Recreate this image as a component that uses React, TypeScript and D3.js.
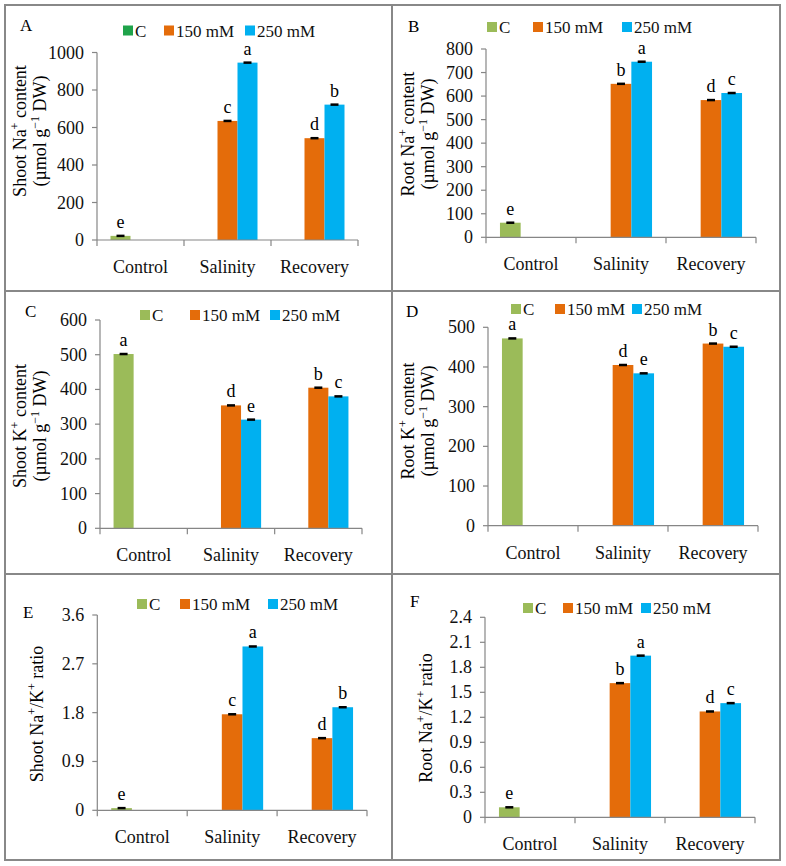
import React from "react";
import * as d3 from "d3";

const categories = ["Control", "Salinity", "Recovery"];
const seriesNames = ["C", "150 mM", "250 mM"];

// Panel A – Shoot Na+
const shootNaC = [22, null, null];
const shootNa150 = [null, 635, 543];
const shootNa250 = [null, 946, 722];
const shootNaLetC = ["e", "", ""];
const shootNaLet150 = ["", "c", "d"];
const shootNaLet250 = ["", "a", "b"];

// Panel B – Root Na+
const rootNaC = [62, null, null];
const rootNa150 = [null, 652, 583];
const rootNa250 = [null, 746, 613];
const rootNaLetC = ["e", "", ""];
const rootNaLet150 = ["", "b", "d"];
const rootNaLet250 = ["", "a", "c"];

// Panel C – Shoot K+
const shootKC = [502, null, null];
const shootK150 = [null, 354, 405];
const shootK250 = [null, 313, 380];
const shootKLetC = ["a", "", ""];
const shootKLet150 = ["", "d", "b"];
const shootKLet250 = ["", "e", "c"];

// Panel D – Root K+
const rootKC = [472, null, null];
const rootK150 = [null, 405, 459];
const rootK250 = [null, 384, 451];
const rootKLetC = ["a", "", ""];
const rootKLet150 = ["", "d", "b"];
const rootKLet250 = ["", "e", "c"];

// Panel E – Shoot Na+/K+
const shootRatioC = [0.04, null, null];
const shootRatio150 = [null, 1.77, 1.33];
const shootRatio250 = [null, 3.02, 1.9];
const shootRatioLetC = ["e", "", ""];
const shootRatioLet150 = ["", "c", "d"];
const shootRatioLet250 = ["", "a", "b"];

// Panel F – Root Na+/K+
const rootRatioC = [0.12, null, null];
const rootRatio150 = [null, 1.61, 1.27];
const rootRatio250 = [null, 1.94, 1.37];
const rootRatioLetC = ["e", "", ""];
const rootRatioLet150 = ["", "b", "d"];
const rootRatioLet250 = ["", "a", "c"];

const yMax = [1000, 800, 600, 500, 3.6, 2.4];
const yStep = [200, 100, 100, 100, 0.9, 0.3];

const COLORS = ["#9BBB59", "#E46C0A", "#00B0F0"];
const AXIS = "#868686";
const FONT = "'Liberation Serif', 'Times New Roman', serif";
const FS = 18;

type Part = { t: string; sup?: boolean };

const panels = [
  {
    id: "A", vals: [shootNaC, shootNa150, shootNa250], lets: [shootNaLetC, shootNaLet150, shootNaLet250],
    max: yMax[0], step: yStep[0],
    axisX: 97, endX: 358, y0: 240, yTop: 52.5,
    legX: [123, 164, 245], legY: 30.5, legGreen: "#1FA34A",
    letter: [20, 31],
    titleY: 131,
    titles: [
      { x: 20, parts: [{ t: "Shoot Na" }, { t: "+", sup: true }, { t: " content" }] as Part[] },
      { x: 40, parts: [{ t: "(µmol g" }, { t: "−1", sup: true }, { t: " DW)" }] as Part[] },
    ],
  },
  {
    id: "B", vals: [rootNaC, rootNa150, rootNa250], lets: [rootNaLetC, rootNaLet150, rootNaLet250],
    max: yMax[1], step: yStep[1],
    axisX: 486, endX: 756, y0: 237.3, yTop: 49,
    legX: [487, 533, 622], legY: 27, legGreen: COLORS[0],
    letter: [408, 32],
    titleY: 134,
    titles: [
      { x: 408, parts: [{ t: "Root Na" }, { t: "+", sup: true }, { t: " content" }] as Part[] },
      { x: 428, parts: [{ t: "(µmol g" }, { t: "−1", sup: true }, { t: " DW)" }] as Part[] },
    ],
  },
  {
    id: "C", vals: [shootKC, shootK150, shootK250], lets: [shootKLetC, shootKLet150, shootKLet250],
    max: yMax[2], step: yStep[2],
    axisX: 100, endX: 362, y0: 528.3, yTop: 320,
    legX: [140, 190, 270], legY: 315, legGreen: COLORS[0],
    letter: [25, 317],
    titleY: 426,
    titles: [
      { x: 20, parts: [{ t: "Shoot K" }, { t: "+", sup: true }, { t: " content" }] as Part[] },
      { x: 40, parts: [{ t: "(µmol g" }, { t: "−1", sup: true }, { t: " DW)" }] as Part[] },
    ],
  },
  {
    id: "D", vals: [rootKC, rootK150, rootK250], lets: [rootKLetC, rootKLet150, rootKLet250],
    max: yMax[3], step: yStep[3],
    axisX: 488, endX: 758, y0: 525.7, yTop: 327.3,
    legX: [511, 555, 632], legY: 309, legGreen: COLORS[0],
    letter: [406, 317],
    titleY: 421,
    titles: [
      { x: 408, parts: [{ t: "Root K" }, { t: "+", sup: true }, { t: " content" }] as Part[] },
      { x: 428, parts: [{ t: "(µmol g" }, { t: "−1", sup: true }, { t: " DW)" }] as Part[] },
    ],
  },
  {
    id: "E", vals: [shootRatioC, shootRatio150, shootRatio250], lets: [shootRatioLetC, shootRatioLet150, shootRatioLet250],
    max: yMax[4], step: yStep[4],
    axisX: 97.3, endX: 367, y0: 810.3, yTop: 615,
    legX: [137, 180, 268], legY: 604, legGreen: COLORS[0],
    letter: [23, 618],
    titleY: 714,
    titles: [
      { x: 37, parts: [{ t: "Shoot Na" }, { t: "+", sup: true }, { t: "/K" }, { t: "+", sup: true }, { t: " ratio" }] as Part[] },
    ],
  },
  {
    id: "F", vals: [rootRatioC, rootRatio150, rootRatio250], lets: [rootRatioLetC, rootRatioLet150, rootRatioLet250],
    max: yMax[5], step: yStep[5],
    axisX: 485, endX: 755, y0: 817.3, yTop: 617.3,
    legX: [523, 563, 641], legY: 608, legGreen: COLORS[0],
    letter: [410, 607],
    titleY: 718,
    titles: [
      { x: 426, parts: [{ t: "Root Na" }, { t: "+", sup: true }, { t: "/K" }, { t: "+", sup: true }, { t: " ratio" }] as Part[] },
    ],
  },
];

function Title({ x, y, parts }: { x: number; y: number; parts: Part[] }) {
  const nodes: React.ReactNode[] = [];
  let raised = false;
  parts.forEach((p, i) => {
    if (p.sup) {
      nodes.push(
        <tspan key={i} dy={raised ? 0 : -7} fontSize={12}>{p.t}</tspan>
      );
      raised = true;
    } else {
      nodes.push(
        <tspan key={i} dy={raised ? 7 : 0}>{p.t}</tspan>
      );
      raised = false;
    }
  });
  return (
    <text
      transform={`translate(${x + 6},${y}) rotate(-90)`}
      textAnchor="middle"
      fontSize={FS}
      fontFamily={FONT}
      fill="#000"
    >
      {nodes}
    </text>
  );
}

function Panel({ p }: { p: (typeof panels)[number] }) {
  const y = d3.scaleLinear().domain([0, p.max]).range([p.y0, p.yTop]);
  const x = d3.scaleBand().domain(categories).range([p.axisX, p.endX]).paddingInner(0).paddingOuter(0);
  const xs = d3.scaleBand().domain(seriesNames).range([0, x.bandwidth()]).paddingInner(0).paddingOuter(0.675);
  const ticks = d3.range(0, p.max + p.step / 2, p.step);
  const fmt = (v: number) => (p.step < 1 ? (v === 0 ? "0" : v.toFixed(1)) : d3.format("d")(v));
  const bounds = [p.axisX, ...categories.map((c) => (x(c) as number) + x.bandwidth())];

  return (
    <g>
      {p.vals.map((arr, si) =>
        arr.map((v, ci) => {
          if (v == null) return null;
          const bx = (x(categories[ci]) as number) + (xs(seriesNames[si]) as number);
          const bw = xs.bandwidth();
          const top = y(v);
          const letter = p.lets[si][ci];
          return (
            <g key={`${si}-${ci}`}>
              <rect x={bx} y={top} width={bw} height={p.y0 - top} fill={COLORS[si]} />
              <line x1={bx + bw / 2 - 4} x2={bx + bw / 2 + 4} y1={top} y2={top} stroke="#000" strokeWidth={2.5} />
              {letter && (
                <text x={bx + bw / 2} y={top - 8} textAnchor="middle" fontSize={FS} fontFamily={FONT} fill="#000">
                  {letter}
                </text>
              )}
            </g>
          );
        })
      )}
      <line x1={p.axisX} x2={p.axisX} y1={p.yTop} y2={p.y0} stroke={AXIS} strokeWidth={1.2} />
      {ticks.map((t) => (
        <g key={t}>
          <line x1={p.axisX - 5} x2={p.axisX} y1={y(t)} y2={y(t)} stroke={AXIS} strokeWidth={1.2} />
          <text x={p.axisX - 13} y={y(t) + 6} textAnchor="end" fontSize={FS} fontFamily={FONT} fill="#111">
            {fmt(t)}
          </text>
        </g>
      ))}
      <line x1={p.axisX} x2={p.endX} y1={p.y0} y2={p.y0} stroke={AXIS} strokeWidth={1.2} />
      {bounds.map((b, i) => (
        <line key={i} x1={b} x2={b} y1={p.y0} y2={p.y0 + 6} stroke={AXIS} strokeWidth={1.2} />
      ))}
      {categories.map((c) => (
        <text
          key={c}
          x={(x(c) as number) + x.bandwidth() / 2}
          y={p.y0 + 33}
          textAnchor="middle"
          fontSize={FS}
          fontFamily={FONT}
          fill="#111"
        >
          {c}
        </text>
      ))}
      {seriesNames.map((s, i) => (
        <g key={s}>
          <rect
            x={p.legX[i]}
            y={p.legY - 5}
            width={10}
            height={10}
            fill={i === 0 ? p.legGreen : COLORS[i]}
          />
          <text x={p.legX[i] + 12} y={p.legY + 6} fontSize={17} fontFamily={FONT} fill="#111">
            {s}
          </text>
        </g>
      ))}
      <text x={p.letter[0]} y={p.letter[1]} fontSize={17} fontFamily={FONT} fill="#000">
        {p.id}
      </text>
      {p.titles.map((t, i) => (
        <Title key={i} x={t.x} y={p.titleY} parts={t.parts} />
      ))}
    </g>
  );
}

export default function App() {
  return (
    <svg
      width={786}
      height={866}
      style={{ position: "absolute", left: 0, top: 0, background: "#fff" }}
    >
      <rect x={0} y={0} width={786} height={866} fill="#fff" />
      {panels.map((p) => (
        <Panel key={p.id} p={p} />
      ))}
      <rect x={5} y={5} width={775} height={855} fill="none" stroke="#888" strokeWidth={2} />
      <line x1={392} x2={392} y1={5} y2={860} stroke="#888" strokeWidth={2} />
      <line x1={5} x2={780} y1={291} y2={291} stroke="#888" strokeWidth={2} />
      <line x1={5} x2={780} y1={574} y2={574} stroke="#888" strokeWidth={2} />
    </svg>
  );
}
